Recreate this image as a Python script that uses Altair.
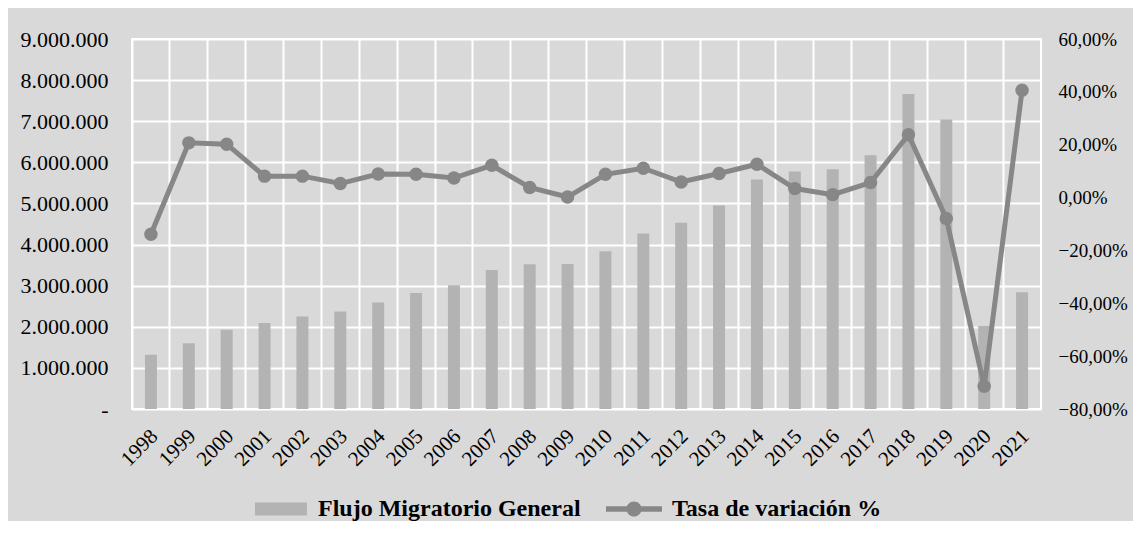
import altair as alt
import pandas as pd

years = [str(y) for y in range(1998, 2022)]
flujo = [1320000, 1600000, 1930000, 2090000, 2250000, 2370000, 2590000, 2820000,
         3010000, 3380000, 3520000, 3530000, 3840000, 4270000, 4530000, 4950000,
         5580000, 5780000, 5830000, 6170000, 7660000, 7040000, 2020000, 2840000]
tasa = [-13.9, 20.7, 20.2, 8.1, 8.1, 5.3, 8.9, 8.8, 7.4, 12.2, 3.8, 0.2,
        8.8, 11.1, 5.9, 9.1, 12.6, 3.4, 1.1, 5.7, 23.8, -7.9, -71.4, 40.6]
bar_name = "Flujo Migratorio General"
line_name = "Tasa de variación %"

df = pd.DataFrame({"year": years, "flujo": flujo, "tasa": tasa,
                   "s_bar": bar_name, "s_line": line_name})

FONT = "Liberation Serif"
BAR_C = "#b3b3b3"
LINE_C = "#878787"

base = alt.Chart(df)

bars = base.mark_bar(size=12, color=BAR_C).encode(
    x=alt.X("year:N", sort=years, title=None,
            scale=alt.Scale(type="band", paddingInner=0, paddingOuter=0),
            axis=alt.Axis(labelAngle=-45, labelFontSize=21, labelFont=FONT,
                          labelColor="#000", ticks=False, domain=False,
                          grid=False, labelPadding=16, labelOffset=-4)),
    y=alt.Y("flujo:Q", title=None,
            scale=alt.Scale(domain=[0, 9000000], nice=False, zero=True),
            axis=alt.Axis(values=list(range(0, 9000001, 1000000)),
                          labelExpr="datum.value == 0 ? '-' : replace(format(datum.value, ','), /,/g, '.')",
                          labelFontSize=22, labelFont=FONT, labelColor="#000",
                          ticks=False, domain=False, grid=True, gridColor="white",
                          gridWidth=2, labelPadding=24)),
    fill=alt.Fill("s_bar:N", title=None,
                  scale=alt.Scale(domain=[bar_name], range=[BAR_C]),
                  legend=alt.Legend(orient="none", legendX=123, legendY=444,
                                    symbolType="M-1,-0.25 H1 V0.25 H-1 Z",
                                    symbolSize=2704, symbolStrokeWidth=0,
                                    symbolFillColor=BAR_C, labelOffset=11,
                                    labelFont=FONT, labelFontSize=24,
                                    labelFontWeight="bold", labelColor="#000",
                                    padding=0, labelLimit=400)),
)

line = base.mark_line(
    strokeWidth=5, color=LINE_C,
    point=alt.OverlayMarkDef(filled=True, size=180, color=LINE_C, strokeWidth=0),
).encode(
    x=alt.X("year:N", sort=years, title=None,
            scale=alt.Scale(type="band", paddingInner=0, paddingOuter=0),
            axis=alt.Axis(labels=False, ticks=False, domain=False, grid=True,
                          gridColor="white", gridWidth=2, bandPosition=0)),
    y=alt.Y("tasa:Q", title=None,
            scale=alt.Scale(domain=[-80, 60], nice=False, zero=False),
            axis=alt.Axis(orient="right", values=list(range(-80, 61, 20)),
                          labelExpr="replace(format(datum.value, '.2f'), '.', ',') + '%'",
                          labelFontSize=19, labelFont=FONT, labelColor="#000",
                          ticks=False, domain=False, grid=False, labelPadding=17)),
    stroke=alt.Stroke("s_line:N", title=None,
                      scale=alt.Scale(domain=[line_name], range=[LINE_C]),
                      legend=alt.Legend(orient="none", legendX=474, legendY=442,
                                        symbolType="M-1,-0.1 H1 V0.1 H-1 Z M0.27,0 A0.27,0.27 0 1 1 -0.27,0 A0.27,0.27 0 1 1 0.27,0 Z",
                                        symbolSize=3136, symbolStrokeWidth=0,
                                        symbolFillColor=LINE_C, labelOffset=10,
                                        labelFont=FONT, labelFontSize=24,
                                        labelFontWeight="bold", labelColor="#000",
                                        padding=0, labelLimit=400)),
)

chart = alt.layer(bars, line).resolve_scale(
    x="independent", y="independent", fill="independent", stroke="independent"
).properties(
    width=909, height=370,
    autosize=alt.AutoSizeParams(type="none"),
    padding={"left": 124, "top": 31, "right": 92, "bottom": 112},
    background="#d9d9d9",
).configure_view(stroke="white", strokeWidth=2)

chart.save("out.html", embed_options={"renderer": "svg", "actions": False})
